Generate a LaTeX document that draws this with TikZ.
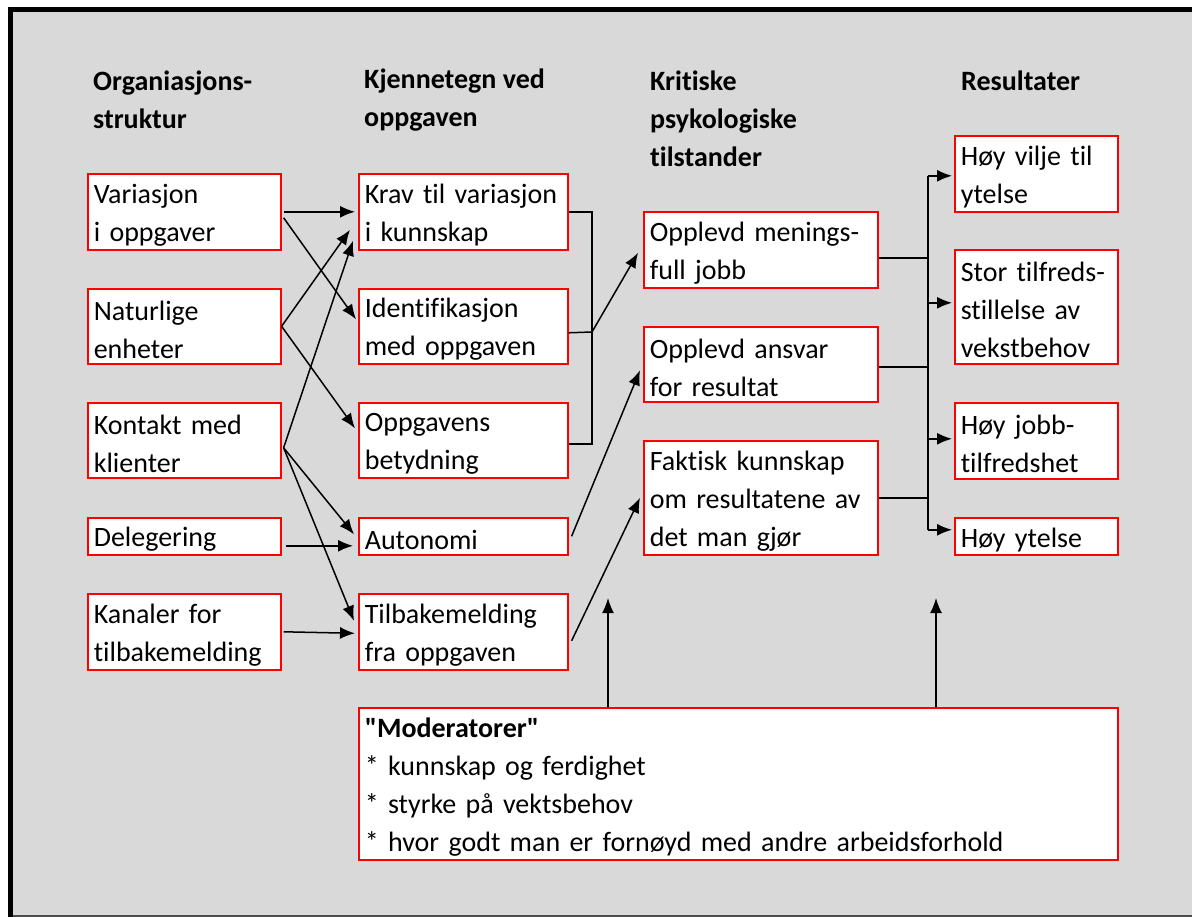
\documentclass[tikz,border=0pt]{standalone}
\usepackage{fontspec}
\setmainfont{Carlito}[Ligatures={NoCommon,TeXOff}]
\usetikzlibrary{arrows.meta}
\newcommand\fs{\fontsize{28}{38}\selectfont}
\definecolor{bggray}{RGB}{217,217,217}
\definecolor{boxred}{RGB}{255,0,0}
\tikzset{
  box/.style n args={3}{draw=boxred, line width=1.6pt, fill=white, anchor=north west,
    inner xsep=6pt, inner ysep=0pt, align=left, font=\fs, text=black,
    minimum width=#1, minimum height=#2, text width=#3,
    execute at begin node={\rule{0pt}{26pt}}},
  head/.style={anchor=west, inner sep=0pt, align=left, font=\fs\bfseries, text=black},
  conn/.style={line width=1.5pt, draw=black},
  arr/.style={conn, -{Latex[length=15pt,width=12pt]}}
}
\begin{document}
\begin{tikzpicture}[x=1pt,y=-1pt]
\useasboundingbox (0,0) rectangle (1192,917);
\fill[white] (0,0) rectangle (1192,917);
\fill[bggray] (8,7) rectangle (1192,917);
\fill[black!70] (8,915) rectangle (1192,917);
\fill[black] (8,7) rectangle (1192,12);
\fill[black] (8,7) rectangle (13,917);

% headers
\node[head] (h1) at (93,100) {Organiasjons-\\struktur};
\node[head] (h2) at (364,100) {Kjennetegn ved\\oppgaven};
\node[head] (h3) at (650,119) {Kritiske\\psykologiske\\tilstander};
\node[head] (h4) at (961,81) {Resultater};

% column 1
\node[box={193pt}{76pt}{181pt}] (v1) at (87,173) {Variasjon\\i oppgaver};
\node[box={193pt}{75pt}{181pt}] (v2) at (87,288) {Naturlige\\enheter};
\node[box={193pt}{75pt}{181pt}] (v3) at (87,402) {Kontakt med\\klienter};
\node[box={193pt}{37pt}{181pt}] (v4) at (87,517) {Delegering};
\node[box={193pt}{76pt}{181pt}] (v5) at (87,593) {Kanaler for\\tilbakemelding};

% column 2
\node[box={209pt}{76pt}{197pt}] (k1) at (358,173) {Krav til variasjon\\i kunnskap};
\node[box={209pt}{75pt}{197pt}] (k2) at (358,288) {Identifikasjon\\med oppgaven};
\node[box={209pt}{75pt}{197pt}] (k3) at (358,402) {Oppgavens\\betydning};
\node[box={209pt}{37pt}{197pt}] (k4) at (358,517) {Autonomi};
\node[box={209pt}{76pt}{197pt}] (k5) at (358,593) {Tilbakemelding\\fra oppgaven};

% column 3
\node[box={234pt}{76pt}{222pt}] (p1) at (643,211) {Opplevd menings-\\full jobb};
\node[box={234pt}{75pt}{222pt}] (p2) at (643,326) {Opplevd ansvar\\for resultat};
\node[box={234pt}{114pt}{222pt}] (p3) at (643,440) {Faktisk kunnskap\\om resultatene av\\det man gjør};

% column 4
\node[box={163pt}{76pt}{151pt}] (r1) at (954,135) {Høy vilje til\\ytelse};
\node[box={163pt}{114pt}{151pt}] (r2) at (954,249) {Stor tilfreds-\\stillelse av\\vekstbehov};
\node[box={163pt}{76pt}{151pt}] (r3) at (954,402) {Høy jobb-\\tilfredshet};
\node[box={163pt}{37pt}{151pt}] (r4) at (954,517) {Høy ytelse};

% moderators
\node[box={759pt}{152pt}{747pt}] (mod) at (358,707) {\textbf{"Moderatorer"}\\{*} kunnskap og ferdighet\\{*} styrke på vektsbehov\\{*} hvor godt man er fornøyd med andre arbeidsforhold};

% column 1 -> column 2
\draw[arr] ([xshift=2pt]v1.east) -- ([xshift=-3pt]k1.west);
\draw[arr] ([xshift=2pt,yshift=-6pt]v1.east) -- ([xshift=-2pt,yshift=7pt]k2.west);
\draw[arr] (v2.east) -- ([xshift=-8pt,yshift=-18pt]k1.west);
\draw[arr] (v2.east) -- ([xshift=-3pt,yshift=12pt]k3.west);
\draw[arr] ([xshift=2pt,yshift=-7.5pt]v3.east) -- ([xshift=-5pt,yshift=-29pt]k1.west);
\draw[arr] ([xshift=2pt,yshift=-7.5pt]v3.east) -- ([xshift=-4pt,yshift=2pt]k4.west);
\draw[arr] ([xshift=2pt,yshift=-7.5pt]v3.east) -- ([xshift=-4pt,yshift=11pt]k5.west);
\draw[arr] ([xshift=4pt,yshift=-9.5pt]v4.east) -- ([xshift=-5pt,yshift=-9.5pt]k4.west);
\draw[arr] ([xshift=2pt]v5.east) -- ([xshift=-3pt,yshift=-1.5pt]k5.west);

% column 2 -> column 3
\coordinate (j1) at (592,332);
\draw[conn] (k1.east) -- (k1.east -| j1) -- ([yshift=-3.5pt]k3.east -| j1) -- ([yshift=-3.5pt]k3.east);
\draw[conn] ([yshift=-6.5pt]k2.east) -- (j1);
\draw[arr] (j1) -- ([xshift=-5pt,yshift=-3pt]p1.west);
\draw[arr] ([xshift=3pt]k4.east) -- ([xshift=-3pt,yshift=-6pt]p2.west);
\draw[arr] ([xshift=3pt,yshift=-9pt]k5.east) -- ([xshift=-3pt]p3.west);

% moderators
\coordinate (m1) at (608,598);
\coordinate (m2) at (936,598);
\draw[arr] (mod.north -| m1) -- (m1);
\draw[arr] (mod.north -| m2) -- (m2);

% column 3 -> column 4
\coordinate (bus) at (928,0);
\draw[conn] ([yshift=-8pt]p1.east) -- ([yshift=-8pt]p1.east -| bus);
\draw[conn] ([yshift=-2.5pt]p2.east) -- ([yshift=-2.5pt]p2.east -| bus);
\draw[conn] (p3.east) -- (p3.east -| bus);
\draw[conn] ([yshift=-2pt]r1.west -| bus) -- ([yshift=6.5pt]r4.west -| bus);
\draw[arr] ([yshift=-2pt]r1.west -| bus) -- ([xshift=-2pt,yshift=-2pt]r1.west);
\draw[arr] ([yshift=4pt]r2.west -| bus) -- ([xshift=-2pt,yshift=4pt]r2.west);
\draw[arr] ([yshift=2pt]r3.west -| bus) -- ([xshift=-2pt,yshift=2pt]r3.west);
\draw[arr] ([yshift=6.5pt]r4.west -| bus) -- ([xshift=-2pt,yshift=6.5pt]r4.west);
\end{tikzpicture}
\end{document}
